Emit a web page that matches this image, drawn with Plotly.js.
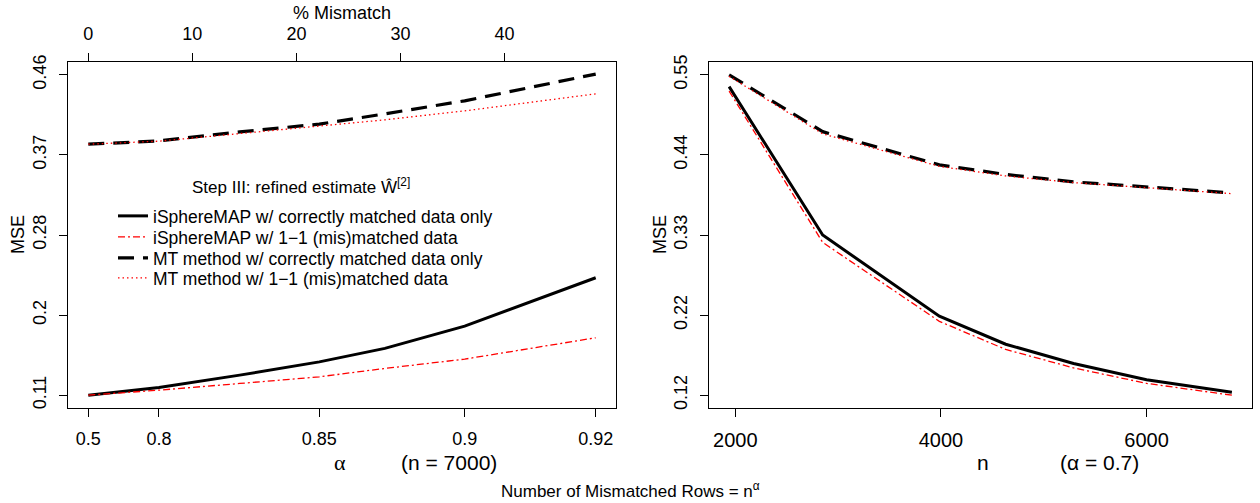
<!DOCTYPE html>
<html>
<head>
<meta charset="utf-8">
<script src="https://cdn.plot.ly/plotly-3.0.1.min.js"></script>
<style>html,body{margin:0;padding:0;background:#fff;}#chart{width:1260px;height:503px;}</style>
</head>
<body>
<div id="chart"></div>
<script>
// ---- data (left panel: n = 7000, x in % mismatch) ----
const pctTicks = [0, 10, 20, 30, 40];
const alphaLabels = ['0.5', '0.8', '0.85', '0.9', '0.92'];
const alphaPos = [0, 6.79, 22.2, 36.17, 48.76];
const leftX = [0, 6.79, 14.55, 22.2, 28.5, 36.17, 48.76];
const leftSphereCorrect = [0.110, 0.1184, 0.1319, 0.1464, 0.1611, 0.1855, 0.2383];
const leftSphereMis     = [0.110, 0.1155, 0.1228, 0.1301, 0.1392, 0.1494, 0.1727];
const leftMTCorrect     = [0.3842, 0.3878, 0.3976, 0.4061, 0.4173, 0.4316, 0.4608];
const leftMTMis         = [0.3842, 0.3875, 0.3958, 0.4042, 0.4108, 0.4206, 0.4392];
const leftYTicks = [0.11, 0.1975, 0.285, 0.3725, 0.46];
const leftYLabels = ['0.11', '0.2', '0.28', '0.37', '0.46'];

// ---- data (right panel: alpha = 0.7) ----
const rightN = [1940, 2850, 3985, 4630, 5290, 6000, 6830];
const rightSphereCorrect = [0.534, 0.333, 0.223, 0.185, 0.159, 0.137, 0.120];
const rightSphereMis     = [0.528, 0.323, 0.216, 0.178, 0.153, 0.132, 0.116];
const rightMTCorrect     = [0.550, 0.473, 0.428, 0.415, 0.405, 0.398, 0.390];
const rightMTMis         = [0.548, 0.470, 0.426, 0.413, 0.404, 0.397, 0.389];
const rightXTicks = [2000, 4000, 6000];
const rightYTicks = [0.116, 0.2245, 0.333, 0.4415, 0.55];
const rightYLabels = ['0.12', '0.22', '0.33', '0.44', '0.55'];

const seriesNames = [
  'iSphereMAP w/ correctly matched data only',
  'iSphereMAP w/ 1\u22121 (mis)matched data',
  'MT method w/ correctly matched data only',
  'MT method w/ 1\u22121 (mis)matched data'
];

const FONT = 'Liberation Sans, Arial, Helvetica, sans-serif';
const styles = [
  {color: '#000000', width: 3, dash: 'solid'},
  {color: '#ff0000', width: 1.3, dash: '7px,3px,2px,3px'},
  {color: '#000000', width: 3.2, dash: '16px,9px'},
  {color: '#ff0000', width: 1.3, dash: '1.5px,3px'}
];
const legendIds = ['legend', 'legend2', 'legend3', 'legend4'];

const leftY = [leftSphereCorrect, leftSphereMis, leftMTCorrect, leftMTMis];
const rightY = [rightSphereCorrect, rightSphereMis, rightMTCorrect, rightMTMis];
const order = [2, 3, 0, 1];

const traces = [];
order.forEach(i => {
  traces.push({
    x: leftX, y: leftY[i], type: 'scatter', mode: 'lines',
    name: seriesNames[i], line: styles[i], xaxis: 'x', yaxis: 'y',
    showlegend: true, legend: legendIds[i], hoverinfo: 'skip'
  });
});
order.forEach(i => {
  traces.push({
    x: rightN, y: rightY[i], type: 'scatter', mode: 'lines',
    name: seriesNames[i], line: styles[i], xaxis: 'x2', yaxis: 'y2',
    showlegend: false, hoverinfo: 'skip'
  });
});
// empty carrier trace so the top "% Mismatch" axis is drawn
traces.push({x: pctTicks, y: pctTicks.map(() => null), type: 'scatter', mode: 'lines',
  xaxis: 'x3', yaxis: 'y', showlegend: false, hoverinfo: 'skip'});

const W = 1260, H = 503;
const px = v => v / W, py = v => 1 - v / H;
const yDom = [py(408), py(62)];

const axisBase = {
  showline: true, linecolor: '#000', linewidth: 1, mirror: true,
  showgrid: false, zeroline: false, ticks: 'outside', ticklen: 8,
  tickcolor: '#000', tickwidth: 1,
  tickfont: {family: FONT, size: 18, color: '#000'}
};

const legendBase = (yc) => ({
  x: px(113), y: py(yc), xanchor: 'left', yanchor: 'middle',
  bgcolor: 'rgba(0,0,0,0)', borderwidth: 0,
  font: {family: FONT, size: 17.5, color: '#000'}
});

const ann = (text, x, y, size, extra) => Object.assign({
  text: text, x: px(x), y: py(y), xref: 'paper', yref: 'paper',
  xanchor: 'center', yanchor: 'middle', showarrow: false,
  font: {family: FONT, size: size, color: '#000'}
}, extra || {});

const layout = {
  width: W, height: H,
  margin: {l: 0, r: 0, t: 0, b: 0},
  paper_bgcolor: '#fff', plot_bgcolor: '#fff',
  font: {family: FONT, color: '#000'},
  xaxis: Object.assign({}, axisBase, {
    domain: [px(68), px(616)], range: [-1.95, 50.71], anchor: 'y',
    tickmode: 'array', tickvals: alphaPos, ticktext: alphaLabels, ticklabelstandoff: 6
  }),
  xaxis3: Object.assign({}, axisBase, {
    overlaying: 'x', side: 'top', anchor: 'y', range: [-1.95, 50.71], mirror: false,
    tickmode: 'array', tickvals: pctTicks, ticktext: pctTicks.map(String), ticklabelstandoff: 6
  }),
  yaxis: Object.assign({}, axisBase, {
    domain: yDom, range: [0.096, 0.474], anchor: 'x',
    tickmode: 'array', tickvals: leftYTicks, ticktext: leftYLabels,
    tickangle: -90, ticklabelstandoff: 6
  }),
  xaxis2: Object.assign({}, axisBase, {
    domain: [px(709), px(1252)], range: [1744.4, 7025.6], anchor: 'y2',
    tickmode: 'array', tickvals: rightXTicks, ticktext: rightXTicks.map(String), ticklabelstandoff: 6,
    tickfont: {family: FONT, size: 20, color: '#000'}
  }),
  yaxis2: Object.assign({}, axisBase, {
    domain: yDom, range: [0.09864, 0.56736], anchor: 'x2',
    tickmode: 'array', tickvals: rightYTicks, ticktext: rightYLabels,
    tickangle: -90, ticklabelstandoff: 6
  }),
  legend: legendBase(216),
  legend2: legendBase(237),
  legend3: legendBase(258),
  legend4: legendBase(278),
  annotations: [
    ann('% Mismatch', 342, 13, 18),
    ann('Step III: refined estimate \u0174<sup>[2]</sup>', 301, 186, 17),
    ann('MSE', 18, 235, 18, {textangle: -90}),
    ann('MSE', 660, 235, 18, {textangle: -90}),
    ann('\u03b1', 340, 462, 22, {font: {family: 'Liberation Serif, DejaVu Serif, serif', size: 22, color: '#000'}}),
    ann('(n = 7000)', 449, 462, 21),
    ann('n', 983, 462, 21),
    ann('(\u03b1 = 0.7)', 1099, 462, 21),
    ann('Number of Mismatched Rows = n<sup>\u03b1</sup>', 630, 490, 17)
  ]
};

Plotly.newPlot('chart', traces, layout, {staticPlot: true, displayModeBar: false});
</script>
</body>
</html>
